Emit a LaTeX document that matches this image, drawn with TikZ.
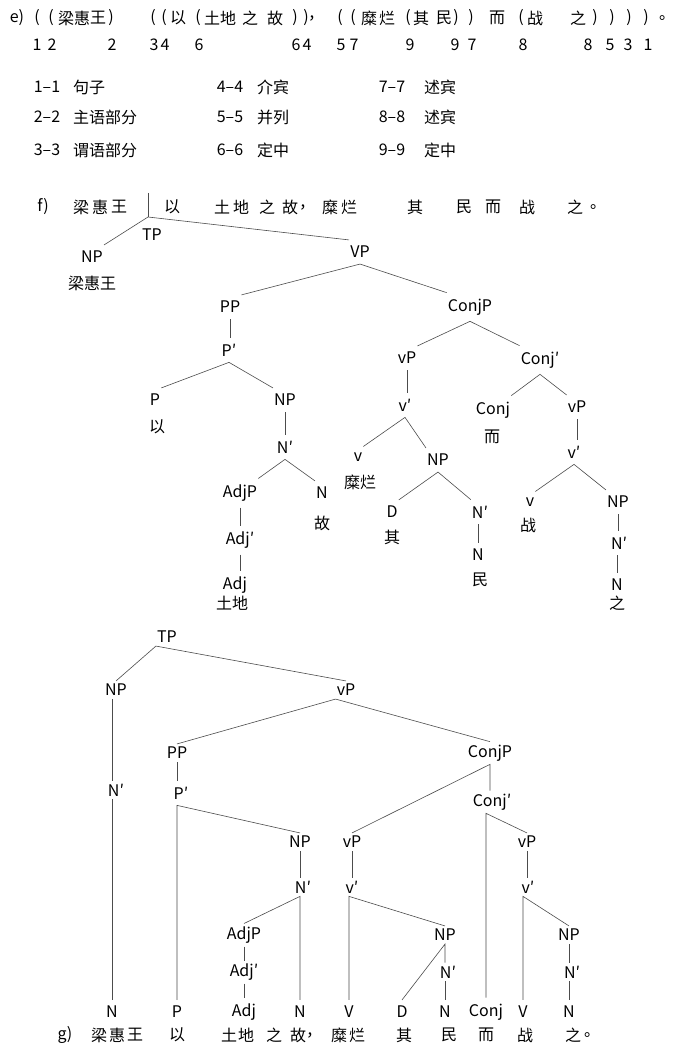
\documentclass[tikz,border=0pt]{standalone}
\usepackage{fontspec}
\setmainfont{Noto Sans CJK SC}
\usetikzlibrary{positioning}

\begin{document}
\begin{tikzpicture}[x=1pt, y=-1pt,
    every node/.style={font=\fontsize{16}{19}\selectfont, inner sep=1pt},
    tag/.style={inner xsep=1pt, inner ysep=6pt},
    gtag/.style={inner xsep=1pt, inner ysep=3pt},
    edge/.style={black!70, line width=0.6pt}]
    \path[use as bounding box, fill=white] (0,0) rectangle (675,1059);

    % e) bracketed analysis
    \foreach \x/\t [count=\i] in {17/e), 37/{(}, 51/{(}, 66/梁, 82/惠, 98/王, 111/{)},
        153/{(}, 164/{(}, 178/以, 198/{(}, 212/土, 228/地, 250/之, 275/故,
        295/{)}, 306/{)}, 316/，, 340/{(}, 353/{(}, 369/糜, 387/烂, 408/{(}, 421/其,
        444/民, 456/{)}, 471/{)}, 497/而, 521/{(}, 535/战, 578/之, 595/{)},
        612/{)}, 629/{)}, 646/{)}, 667/。} {
        \node (eA\i) at (\x,18) {\t};
    }
    % bracket numbers
    \foreach \x/\d [count=\i] in {37/1, 52/2, 112/2, 154/3, 165/4, 199/6, 296/6,
        307/4, 341/5, 354/7, 410/9, 455/9, 472/7, 523/8, 588/8, 610/5, 628/3, 648/1} {
        \node (eB\i) at (\x,45) {\d};
    }

    % legend
    \foreach \n/\t/\y in {1/句子/87, 2/主语部分/117, 3/谓语部分/150} {
        \node (lgA\n) at (47,\y) {\n–\n};
        \node[anchor=west] (lgAt\n) at (72,\y) {\t};
    }
    \foreach \n/\t/\y in {4/介宾/87, 5/并列/117, 6/定中/150} {
        \node (lgB\n) at (230,\y) {\n–\n};
        \node[anchor=west] (lgBt\n) at (256,\y) {\t};
    }
    \foreach \n/\t/\y in {7/述宾/87, 8/述宾/117, 9/定中/150} {
        \node (lgC\n) at (392,\y) {\n–\n};
        \node[anchor=west] (lgCt\n) at (423,\y) {\t};
    }

    % f) sentence
    \foreach \x/\t [count=\i] in {43/f), 81/梁, 100/惠, 119/王, 172/以, 222/土, 241/地,
        267/之, 290/故, 307/，, 330/糜, 349/烂, 415/其, 464/民, 493/而, 527/战,
        575/之, 598/。} {
        \node (fS\i) at (\x,207) {\t};
    }

    % f) tree
    \coordinate (fTop) at (148,193);
    \coordinate (fSplit) at (148,217);
    \node[tag] (fTP) at (152,235) {TP};
    \node[tag] (fNP) at (92,257) {NP};
    \node (fW1) at (92,283) {梁惠王};
    \node[tag] (fVP) at (360,252) {VP};
    \node[tag] (fPP) at (230,307) {PP};
    \node[tag] (fPb) at (229,350) {P′};
    \node[tag] (fP) at (155,400) {P};
    \node (fW2) at (157,427) {以};
    \node[tag] (fNPa) at (285,400) {NP};
    \node[tag] (fNb) at (285,447) {N′};
    \node[tag] (fAdjP) at (240,493) {AdjP};
    \node[tag] (fN) at (322,493) {N};
    \node (fW5) at (322,523) {故};
    \node[tag] (fAdjb) at (240,540) {Adj′};
    \node[tag] (fAdj) at (235,585) {Adj};
    \node (fW3) at (232,603) {土地};
    \node[tag] (fConjP) at (470,307) {ConjP};
    \node[tag] (fvPa) at (407,358) {vP};
    \node[tag] (fvba) at (405,405) {v′};
    \node[tag] (fva) at (358,457) {v};
    \node (fW6) at (360,482) {糜烂};
    \node[tag] (fNPc) at (438,460) {NP};
    \node[tag] (fD) at (392,512) {D};
    \node (fW7) at (392,537) {其};
    \node[tag] (fNbc) at (480,512) {N′};
    \node[tag] (fNc) at (478,555) {N};
    \node (fW8) at (480,580) {民};
    \node[tag] (fConjb) at (540,360) {Conj′};
    \node[tag] (fConj) at (493,410) {Conj};
    \node (fW9) at (492,437) {而};
    \node[tag] (fvPb) at (577,407) {vP};
    \node[tag] (fvbb) at (574,452) {v′};
    \node[tag] (fvb) at (530,502) {v};
    \node (fW10) at (528,525) {战};
    \node[tag] (fNPd) at (618,502) {NP};
    \node[tag] (fNbd) at (619,543) {N′};
    \node[tag] (fNd) at (617,585) {N};
    \node (fW11) at (617,603) {之};

    \draw[edge] (fTop) -- (fSplit);
    \draw[edge] (fNP.north east) -- (fSplit) -- (fVP.north west);
    \draw[edge] (fPP.north east) -- (fVP.south) -- (fConjP.north west);
    \draw[edge] (fPP.south) -- (fPP.south |- fPb.north);
    \draw[edge] (fP.north east) -- (fPb.south) -- (fNPa.north west);
    \draw[edge] (fNPa.south) -- (fNPa.south |- fNb.north);
    \draw[edge] (fAdjP.north east) -- (fNb.south) -- (fN.north west);
    \draw[edge] (fAdjP.south) -- (fAdjP.south |- fAdjb.north);
    \draw[edge] (fAdjP.south |- fAdjb.south) -- (fAdjP.south |- fAdj.north);
    \draw[edge] (fvPa.north east) -- (fConjP.south) -- (fConjb.north west);
    \draw[edge] (fvPa.south) -- (fvPa.south |- fvba.north);
    \draw[edge] (fva.north east) -- (fvba.south) -- (fNPc.north west);
    \draw[edge] (fD.north east) -- (fNPc.south) -- (fNbc.north west);
    \draw[edge] (fNc.north |- fNbc.south) -- (fNc.north);
    \draw[edge] (fConj.north east) -- (fConjb.south) -- (fvPb.north west);
    \draw[edge] (fvPb.south) -- (fvPb.south |- fvbb.north);
    \draw[edge] (fvb.north east) -- (fvbb.south) -- (fNPd.north west);
    \draw[edge] (fNPd.south) -- (fNPd.south |- fNbd.north);
    \draw[edge] (fNd.north |- fNbd.south) -- (fNd.north);

    % g) tree
    \node[gtag] (gTP) at (167,637) {TP};
    \node[gtag] (gNP) at (116,690) {NP};
    \node[gtag] (gvP) at (346,690) {vP};
    \node[gtag] (gNb) at (116,790) {N′};
    \node[gtag] (gPP) at (177,753) {PP};
    \node[tag] (gPb) at (181,793) {P′};
    \node[gtag] (gConjP) at (490,753) {ConjP};
    \node[gtag] (gConjb) at (492,802) {Conj′};
    \node[gtag] (gNPa) at (300,842) {NP};
    \node[gtag] (gvPa) at (352,842) {vP};
    \node[gtag] (gvPb) at (527,842) {vP};
    \node[gtag] (gNba) at (303,887) {N′};
    \node[gtag] (gvba) at (352,887) {v′};
    \node[gtag] (gvbb) at (528,887) {v′};
    \node[gtag] (gAdjP) at (244,935) {AdjP};
    \node[gtag] (gNPb) at (445,935) {NP};
    \node[gtag] (gNPc) at (569,935) {NP};
    \node[gtag] (gAdjb) at (244,972) {Adj′};
    \node[gtag] (gNbb) at (448,972) {N′};
    \node[gtag] (gNbc) at (572,972) {N′};
    \foreach \x/\t [count=\i] in {112/N, 177/P, 244/Adj, 300/N, 349/V, 402/D, 445/N,
        486/Conj, 523/V, 569/N} {
        \node[tag] (gT\i) at (\x,1012) {\t};
    }
    \foreach \x/\t [count=\i] in {65/g), 99/梁, 117/惠, 135/王, 177/以, 229/土, 246/地,
        274/之, 298/故, 314/，, 339/糜, 357/烂, 404/其, 449/民, 486/而, 525/战,
        573/之, 592/。} {
        \node (gS\i) at (\x,1035) {\t};
    }

    \draw[edge] (gNP.north) -- (gTP.south west) -- (gvP.north);
    \draw[edge] (gT1.north |- gNP.south) -- (gT1.north |- gNb.north);
    \draw[edge] (gT1.north |- gNb.south) -- (gT1.north);
    \draw[edge] (gPP.north) -- (gvP.south west) -- (gConjP.north);
    \draw[edge] (gT2.north |- gPP.south) -- (gT2.north |- gPb.north);
    \draw[edge] (gT2.north) -- (gT2.north |- gPb.south) -- (gNPa.north);
    \draw[edge] (gvPa.north) -- (gConjP.south) -- (gConjP.south |- gConjb.north);
    \draw[edge] (gT8.north) -- (gT8.north |- gConjb.south) -- (gvPb.north);
    \draw[edge] (gNPa.south) -- (gNPa.south |- gNba.north);
    \draw[edge] (gAdjP.north) -- (gT4.north |- gNba.south) -- (gT4.north);
    \draw[edge] (gAdjP.south) -- (gAdjP.south |- gAdjb.north);
    \draw[edge] (gT3.north |- gAdjb.south) -- (gT3.north);
    \draw[edge] (gvPa.south) -- (gvPa.south |- gvba.north);
    \draw[edge] (gT5.north) -- (gT5.north |- gvba.south) -- (gNPb.north);
    \draw[edge] (gT6.north) -- (gNPb.south) -- (gNPb.south |- gNbb.north);
    \draw[edge] (gT7.north |- gNbb.south) -- (gT7.north);
    \draw[edge] (gvPb.south) -- (gvPb.south |- gvbb.north);
    \draw[edge] (gT9.north) -- (gT9.north |- gvbb.south) -- (gNPc.north);
    \draw[edge] (gNPc.south) -- (gNPc.south |- gNbc.north);
    \draw[edge] (gT10.north |- gNbc.south) -- (gT10.north);
\end{tikzpicture}
\end{document}
